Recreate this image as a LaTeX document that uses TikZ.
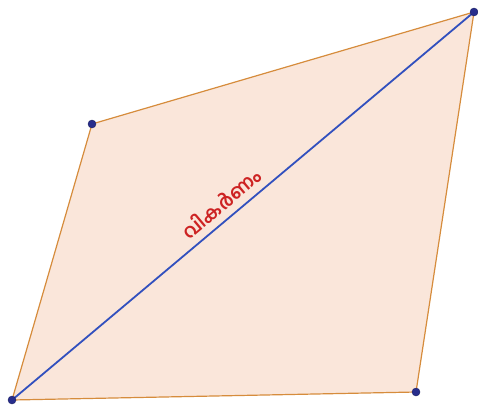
\documentclass[tikz,border=0pt]{standalone}
\usepackage{fontspec}
\newfontfamily\malfont[Script=Malayalam]{Hind Kochi}
\definecolor{fillc}{RGB}{250,230,218}
\definecolor{edgec}{RGB}{214,140,60}
\definecolor{diagc}{RGB}{50,80,190}
\definecolor{ptc}{RGB}{40,45,140}
\definecolor{labc}{RGB}{205,35,35}
\tikzset{
  pt/.style={circle,fill=ptc,draw=ptc!70!black,inner sep=0pt,minimum size=8pt},
  edge/.style={draw=edgec,line width=1.2pt},
  diag/.style={draw=diagc,line width=1.8pt},
  lab/.style={text=labc,font=\malfont\bfseries\fontsize{19}{21}\selectfont,rotate=40,inner sep=0pt}
}
\begin{document}
\begin{tikzpicture}[x=1pt,y=-1pt]
\useasboundingbox (0,0) rectangle (478,409);
\coordinate (A) at (12,400);
\coordinate (B) at (92,124);
\coordinate (C) at (474,12);
\coordinate (D) at (416,392);
\fill[fillc] (A) -- (B) -- (C) -- (D) -- cycle;
\draw[edge] (A) -- (B) -- (C) -- (D) -- cycle;
\draw[diag] (A) -- (C);
\node[lab] (L) at (221,203) {വികർണം};
\node[pt] (pA) at (A) {};
\node[pt] (pB) at (B) {};
\node[pt] (pC) at (C) {};
\node[pt] (pD) at (D) {};
\end{tikzpicture}
\end{document}
